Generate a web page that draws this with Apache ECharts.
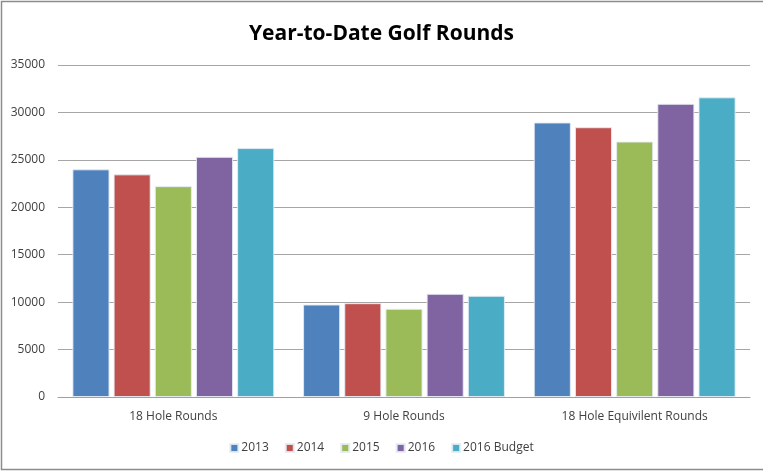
<!DOCTYPE html>
<html>
<head>
<meta charset="utf-8">
<script src="https://cdn.jsdelivr.net/npm/echarts@6/dist/echarts.min.js"></script>
<style>html,body{margin:0;padding:0;background:#fff}#c{width:763px;height:471px}</style>
</head>
<body>
<div id="c"></div>
<script>
var categories = ['18 Hole Rounds', '9 Hole Rounds', '18 Hole Equivilent Rounds'];
var seriesNames = ['2013', '2014', '2015', '2016', '2016 Budget'];
var v2013 = [24000, 9750, 28940];
var v2014 = [23470, 9890, 28440];
var v2015 = [22230, 9300, 26930];
var v2016 = [25320, 10880, 30910];
var vBudget = [26240, 10670, 31590];
var colors = ['#4F81BD', '#C0504D', '#9BBB59', '#8064A2', '#4BACC6'];
var yTicks = { min: 0, max: 35000, interval: 5000 };

var values = [v2013, v2014, v2015, v2016, vBudget];
var chart = echarts.init(document.getElementById('c'));
var font = '"Open Sans", "Noto Sans", sans-serif';
chart.setOption({
  animation: false,
  color: colors,
  title: {
    text: 'Year-to-Date Golf Rounds',
    left: 'center', top: 19,
    textStyle: { fontFamily: '"Open Sans", sans-serif', fontWeight: 'bold', fontSize: 21, color: '#000' }
  },
  graphic: [{
    type: 'polyline',
    shape: { points: [[800, 1.5], [1.5, 1.5], [1.5, 469.5], [800, 469.5]] },
    style: { stroke: '#8c8c8c', lineWidth: 1.5, fill: null },
    silent: true
  }],
  legend: {
    bottom: 12, left: 'center',
    itemWidth: 8, itemHeight: 8, itemGap: 16,
    icon: 'rect',
    textStyle: { fontFamily: font, fontSize: 12, color: '#404040', padding: [0, 0, 0, -2] },
    data: seriesNames
  },
  grid: { left: 58, right: 13, top: 65, bottom: 74, containLabel: false },
  xAxis: {
    type: 'category', data: categories,
    axisLine: { lineStyle: { color: '#a0a0a0' } },
    axisTick: { show: false },
    axisLabel: { fontFamily: font, fontSize: 12, color: '#404040', margin: 14 }
  },
  yAxis: {
    type: 'value', min: yTicks.min, max: yTicks.max, interval: yTicks.interval,
    axisLine: { show: false }, axisTick: { show: false },
    splitLine: { lineStyle: { color: '#a6a6a6' } },
    axisLabel: { fontFamily: font, fontSize: 12, color: '#404040', margin: 13,
      formatter: function (v) { return String(v); } }
  },
  series: seriesNames.map(function (n, i) {
    return {
      name: n, type: 'bar', data: values[i],
      barGap: '11%', barCategoryGap: '12.5%',
      itemStyle: { borderColor: 'rgba(230,236,245,0.9)', borderWidth: 1 }
    };
  })
});
</script>
</body>
</html>
